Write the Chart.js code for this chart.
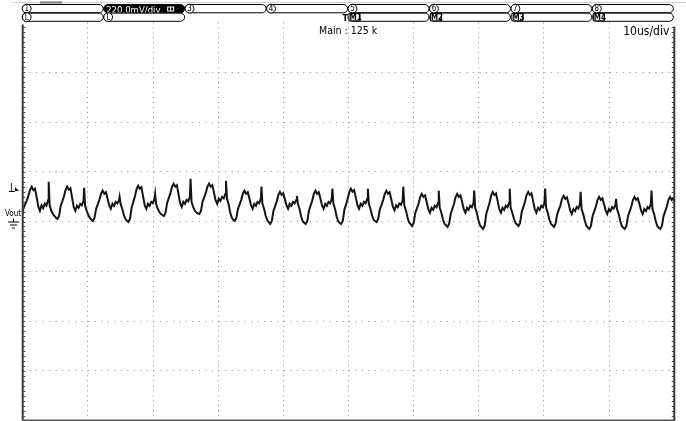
<!DOCTYPE html>
<html><head><meta charset="utf-8">
<script src="https://cdn.jsdelivr.net/npm/chart.js@4.4.1/dist/chart.umd.min.js"></script>
<style>html,body{margin:0;padding:0;background:#fff;overflow:hidden}canvas{display:block}</style>
</head><body>
<canvas id="c" width="686" height="421"></canvas>
<script>
// ---- data ----
// time of each trough of the ripple (us)
const troughTimes = [-0.11, 5.33, 10.77, 16.22, 21.66, 27.10, 32.54, 37.98, 43.43, 48.87, 54.31, 59.75, 65.19, 70.64, 76.08, 81.52, 86.96, 92.40, 97.85];
// sample positions inside one ripple cycle (us after the trough)
const sampleOffsets = [0, 0.25, 0.5, 0.75, 1, 1.25, 1.5, 1.75, 2, 2.25, 2.5, 2.75, 3, 3.25, 3.5, 3.75, 4, 4.1, 4.25, 4.5, 4.75, 5, 5.25];
// Vout (mV) per cycle at those positions
const cycle0  = [2.0, 5.5, 7.0, 8.5, 10.5, 12.8, 14.0, 12.6, 13.2, 9.8, 6.0, 4.3, 6.5, 5.4, 7.2, 6.4, 8.5, 16.0, 6.5, 4.3, 3.0, 2.2, 1.4];
const cycle1  = [1.0, 2.2, 6.2, 8.1, 10.1, 12.7, 14.0, 12.8, 13.4, 9.6, 5.8, 4.3, 6.3, 5.5, 7.1, 6.5, 8.3, 13.5, 6.3, 4.3, 2.5, 1.3, 0.6];
const cycle2  = [0.2, 1.4, 5.1, 6.9, 8.7, 11.2, 12.4, 11.2, 11.8, 9.2, 6.6, 5.1, 7.1, 6.3, 7.9, 7.3, 8.4, 9.9, 7.1, 5.1, 2.6, 1.0, 0.2];
const cycle3  = [-0.2, 1.0, 5.6, 7.8, 10.0, 13.0, 14.4, 13.2, 13.8, 10.2, 6.6, 5.1, 7.1, 6.3, 7.9, 7.3, 9.1, 11.1, 7.1, 5.1, 3.8, 3.0, 2.5];
const cycle4  = [2.2, 3.4, 7.4, 9.4, 11.3, 13.9, 15.2, 14.0, 14.6, 11.0, 7.4, 5.9, 7.9, 7.1, 8.7, 8.1, 9.9, 17.2, 7.9, 5.9, 4.4, 3.6, 3.2];
const cycle5  = [3.0, 4.2, 7.9, 9.7, 11.5, 14.0, 15.2, 14.0, 14.6, 11.6, 8.6, 7.1, 9.1, 8.3, 9.9, 9.3, 11.1, 16.4, 9.1, 7.1, 3.5, 1.5, 0.6];
const cycle6  = [0.2, 1.4, 5.1, 6.9, 8.7, 11.2, 12.4, 11.2, 11.8, 9.2, 6.6, 5.1, 7.1, 6.3, 7.9, 7.3, 9.1, 14.0, 7.1, 5.1, 2.3, 0.5, -0.4];
const cycle7  = [-1.0, 0.2, 4.2, 6.1, 8.0, 10.6, 11.9, 10.7, 11.3, 9.0, 6.6, 5.1, 7.1, 6.3, 7.9, 7.3, 8.6, 10.3, 7.1, 5.1, 2.0, 0.0, -0.6];
const cycle8  = [-1.0, 0.2, 4.4, 6.4, 8.4, 11.1, 12.4, 11.2, 11.8, 9.3, 6.6, 5.1, 7.1, 6.3, 7.9, 7.3, 9.1, 13.2, 7.1, 5.1, 2.0, 0.0, -0.6];
const cycle9  = [-1.0, 0.2, 4.7, 6.8, 9.0, 11.8, 13.2, 12.0, 12.6, 9.7, 6.6, 5.1, 7.1, 6.3, 7.9, 7.3, 9.1, 13.2, 7.1, 5.1, 2.4, 0.6, 0.1];
const cycle10 = [-0.2, 1.0, 4.9, 6.6, 8.6, 11.0, 12.4, 11.2, 11.8, 9.0, 6.0, 4.5, 6.5, 5.7, 7.3, 6.7, 8.5, 14.0, 6.5, 4.5, 1.6, -0.4, -1.2];
const cycle11 = [-1.8, -0.6, 3.4, 5.3, 7.2, 9.8, 11.1, 9.9, 10.5, 7.8, 5.0, 3.5, 5.5, 4.7, 6.3, 5.7, 7.5, 12.4, 5.5, 3.5, 0.8, -1.0, -1.6];
const cycle12 = [-2.2, -1.0, 3.1, 5.1, 7.1, 9.8, 11.1, 9.9, 10.5, 7.8, 5.0, 3.5, 5.5, 4.7, 6.3, 5.7, 7.5, 12.4, 5.5, 3.5, 0.5, -1.6, -2.4];
const cycle13 = [-3.0, -1.8, 3.0, 5.2, 7.4, 10.4, 11.9, 10.7, 11.3, 8.2, 5.0, 3.5, 5.5, 4.7, 6.3, 5.7, 7.5, 13.2, 5.5, 3.5, 1.1, -0.6, -1.3];
const cycle14 = [-1.8, -0.6, 3.8, 5.8, 7.9, 10.6, 11.9, 10.7, 11.3, 8.2, 5.0, 3.5, 5.5, 4.7, 6.3, 5.7, 7.5, 13.2, 5.5, 3.5, 0.8, -1.0, -1.6];
const cycle15 = [-2.2, -1.0, 2.8, 4.7, 6.5, 9.1, 10.3, 9.1, 9.7, 7.2, 4.5, 3.0, 5.0, 4.2, 5.8, 5.2, 7.0, 11.9, 5.0, 3.0, 0.3, -1.8, -2.5];
const cycle16 = [-3.0, -1.8, 2.2, 4.1, 6.0, 8.6, 9.9, 8.7, 9.3, 7.0, 4.5, 3.0, 5.0, 4.2, 5.8, 5.2, 6.6, 9.1, 5.0, 3.0, 0.2, -1.9, -2.6];
const cycle17 = [-3.0, -1.8, 2.2, 4.1, 6.0, 8.6, 9.9, 8.7, 9.3, 7.0, 4.5, 3.0, 5.0, 4.2, 5.8, 5.2, 7.0, 12.4, 5.0, 3.0, 0.2, -1.9, -2.6];
const cycle18 = [-3.0, -1.8, 2.2, 4.1, 6.0, 8.6, 9.9, 8.7, 9.3, 7.0];
const cycles = [cycle0, cycle1, cycle2, cycle3, cycle4, cycle5, cycle6, cycle7, cycle8, cycle9, cycle10, cycle11, cycle12, cycle13, cycle14, cycle15, cycle16, cycle17, cycle18];

// axis settings (10 us/div, 20 mV/div)
const timeMin = 0, timeMax = 100, timeStep = 10;
const voltMin = -80, voltMax = 80, voltStep = 20;

// header texts
const channelLabels = ['1', '', '3', '4', '5', '6', '7', '8'];
const refLabels = ['L', 'L', '', '', 'M1', 'M2', 'M3', 'M4'];
const scaleText = '220.0mV/div';
const sampleText = 'Main : 125 k';
const timebaseText = '10us/div';
const traceName = 'Vout';

// ---- build chart ----
const points = [];
cycles.forEach((vals, c) => vals.forEach((v, j) => points.push({x: troughTimes[c] + sampleOffsets[j], y: v})));

const FONT = '"DejaVu Sans Condensed","Liberation Sans Narrow","DejaVu Sans",sans-serif';

const scopeFrame = {
  id: 'scopeFrame',
  afterDraw(chart) {
    const ctx = chart.ctx, a = chart.chartArea;
    const W = a.right - a.left, H = a.bottom - a.top;
    ctx.save();
    const line = (x1, y1, x2, y2) => { ctx.beginPath(); ctx.moveTo(x1, y1); ctx.lineTo(x2, y2); ctx.stroke(); };

    // top strip line
    ctx.strokeStyle = '#cfcfcf'; ctx.lineWidth = 1; line(12, 2.5, 686, 2.5);
    ctx.strokeStyle = '#7a7a7a'; ctx.lineWidth = 2; line(40, 2.5, 62, 2.5);

    // pills
    const pw = W / 8;
    const r1y = 4.5, r2y = 13, ph = 8.3;
    const pill = (x, y, w, fill) => {
      ctx.beginPath(); ctx.roundRect(x, y, w, ph, ph / 2);
      if (fill) { ctx.fillStyle = '#000'; ctx.fill(); }
      ctx.strokeStyle = '#000'; ctx.lineWidth = 1; ctx.stroke();
    };
    const circled = (x, y, t) => {
      ctx.fillStyle = '#fff';
      ctx.beginPath(); ctx.arc(x + 5, y + ph / 2, 4.4, 0, Math.PI * 2); ctx.fill();
      ctx.strokeStyle = '#000'; ctx.lineWidth = 1; ctx.stroke();
      ctx.fillStyle = '#000'; ctx.font = '8px ' + FONT;
      ctx.textAlign = 'center'; ctx.textBaseline = 'middle';
      ctx.fillText(t, x + 5, y + ph / 2 + 0.5);
    };
    for (let i = 0; i < 8; i++) {
      const x0 = a.left - 1 + i * pw;
      pill(x0 + 0.5, r1y, pw - 0.5, i === 1);
      if (i === 1) {
        ctx.fillStyle = '#fff'; ctx.font = '9.5px ' + FONT;
        ctx.textAlign = 'left'; ctx.textBaseline = 'alphabetic';
        ctx.fillText(scaleText, x0 + 3, r1y + 8);
        ctx.strokeStyle = '#fff'; ctx.lineWidth = 1;
        ctx.strokeRect(x0 + 64.5, r1y + 2.5, 6, 4);
        line(x0 + 67.5, r1y + 2.5, x0 + 67.5, r1y + 6.5);
      } else {
        circled(x0, r1y, channelLabels[i]);
      }
      if (refLabels[i]) {
        pill(x0 + 0.5, r2y, pw - 0.5, false);
        if (refLabels[i] === 'L') {
          circled(x0, r2y, refLabels[i]);
        } else {
          ctx.fillStyle = '#fff'; ctx.fillRect(x0 + 1, r2y + 0.5, 12, ph - 1);
          ctx.strokeStyle = '#000'; ctx.strokeRect(x0 + 1.5, r2y + 0.5, 11, ph - 1);
          ctx.fillStyle = '#000'; ctx.font = 'bold 8px ' + FONT;
          ctx.textAlign = 'left'; ctx.textBaseline = 'middle';
          ctx.fillText(refLabels[i], x0 + 2, r2y + ph / 2 + 0.5);
        }
      }
    }
    // trigger position marker
    ctx.fillStyle = '#000'; ctx.font = 'bold 9px ' + FONT;
    ctx.textAlign = 'right'; ctx.textBaseline = 'alphabetic';
    ctx.fillText('T', a.left + W / 2 - 0.5, 21);

    // texts in the plot header
    ctx.font = '10.5px ' + FONT; ctx.textAlign = 'left';
    ctx.fillText(sampleText, 319, 34);
    ctx.font = '12px ' + FONT; ctx.textAlign = 'right';
    ctx.fillText(timebaseText, a.right - 5, 35);

    // left markers
    const y0 = chart.scales.y.getPixelForValue(0);
    ctx.font = '10px ' + FONT; ctx.textAlign = 'left';
    ctx.fillText('I', 10, 191);
    ctx.beginPath(); ctx.moveTo(15, 187); ctx.lineTo(19, 191); ctx.lineTo(15, 191); ctx.closePath(); ctx.fill();
    ctx.strokeStyle = '#000'; ctx.lineWidth = 1; line(9, 191.5, 15, 191.5);
    ctx.font = '8px ' + FONT;
    ctx.fillText(traceName, 5, y0 - 6);
    line(13.5, y0 - 3, 13.5, y0 + 0.5);
    line(8, y0 + 0.5, 19, y0 + 0.5);
    line(10, y0 + 3.5, 17, y0 + 3.5);
    line(12, y0 + 6.5, 15, y0 + 6.5);

    // frame
    ctx.strokeStyle = '#3a3a3a'; ctx.lineWidth = 2;
    line(a.left, a.top + 2, a.left, a.bottom);
    line(a.right, a.top + 4, a.right, a.bottom);
    ctx.strokeStyle = '#555'; line(a.left, a.bottom, a.right + 1, a.bottom);
    // minor ticks on side borders
    ctx.lineWidth = 1; ctx.strokeStyle = '#444';
    for (let k = 1; k < 80; k++) {
      const y = Math.round(a.top + k * H / 80) + 0.5;
      line(a.left, y, a.left + 2.5, y);
      line(a.right - 2.5, y, a.right, y);
    }
    ctx.restore();
  }
};

const hideEnds = (lo, hi) => (c) => (c.tick && (c.tick.value === lo || c.tick.value === hi)) ? 'rgba(0,0,0,0)' : '#8f8f8f';

new Chart(document.getElementById('c'), {
  type: 'line',
  data: {
    datasets: [{
      label: traceName,
      data: points,
      borderColor: '#151515',
      borderWidth: 2,
      pointRadius: 0,
      tension: 0,
      fill: false
    }]
  },
  options: {
    responsive: false,
    animation: false,
    events: [],
    devicePixelRatio: 1,
    layout: { padding: { left: 22.7, right: 11.7, top: 22.5, bottom: 0.5 } },
    plugins: { legend: { display: false }, tooltip: { enabled: false } },
    scales: {
      x: {
        type: 'linear', min: timeMin, max: timeMax,
        ticks: { stepSize: timeStep, display: false },
        grid: { color: hideEnds(timeMin, timeMax), lineWidth: 1, drawTicks: false },
        border: { display: false, dash: [1, 3.97] }
      },
      y: {
        type: 'linear', min: voltMin, max: voltMax,
        ticks: { stepSize: voltStep, display: false },
        grid: { color: hideEnds(voltMin, voltMax), lineWidth: 1, drawTicks: false },
        border: { display: false, dash: [1, 5.52] }
      }
    }
  },
  plugins: [scopeFrame]
});
</script>
</body></html>
